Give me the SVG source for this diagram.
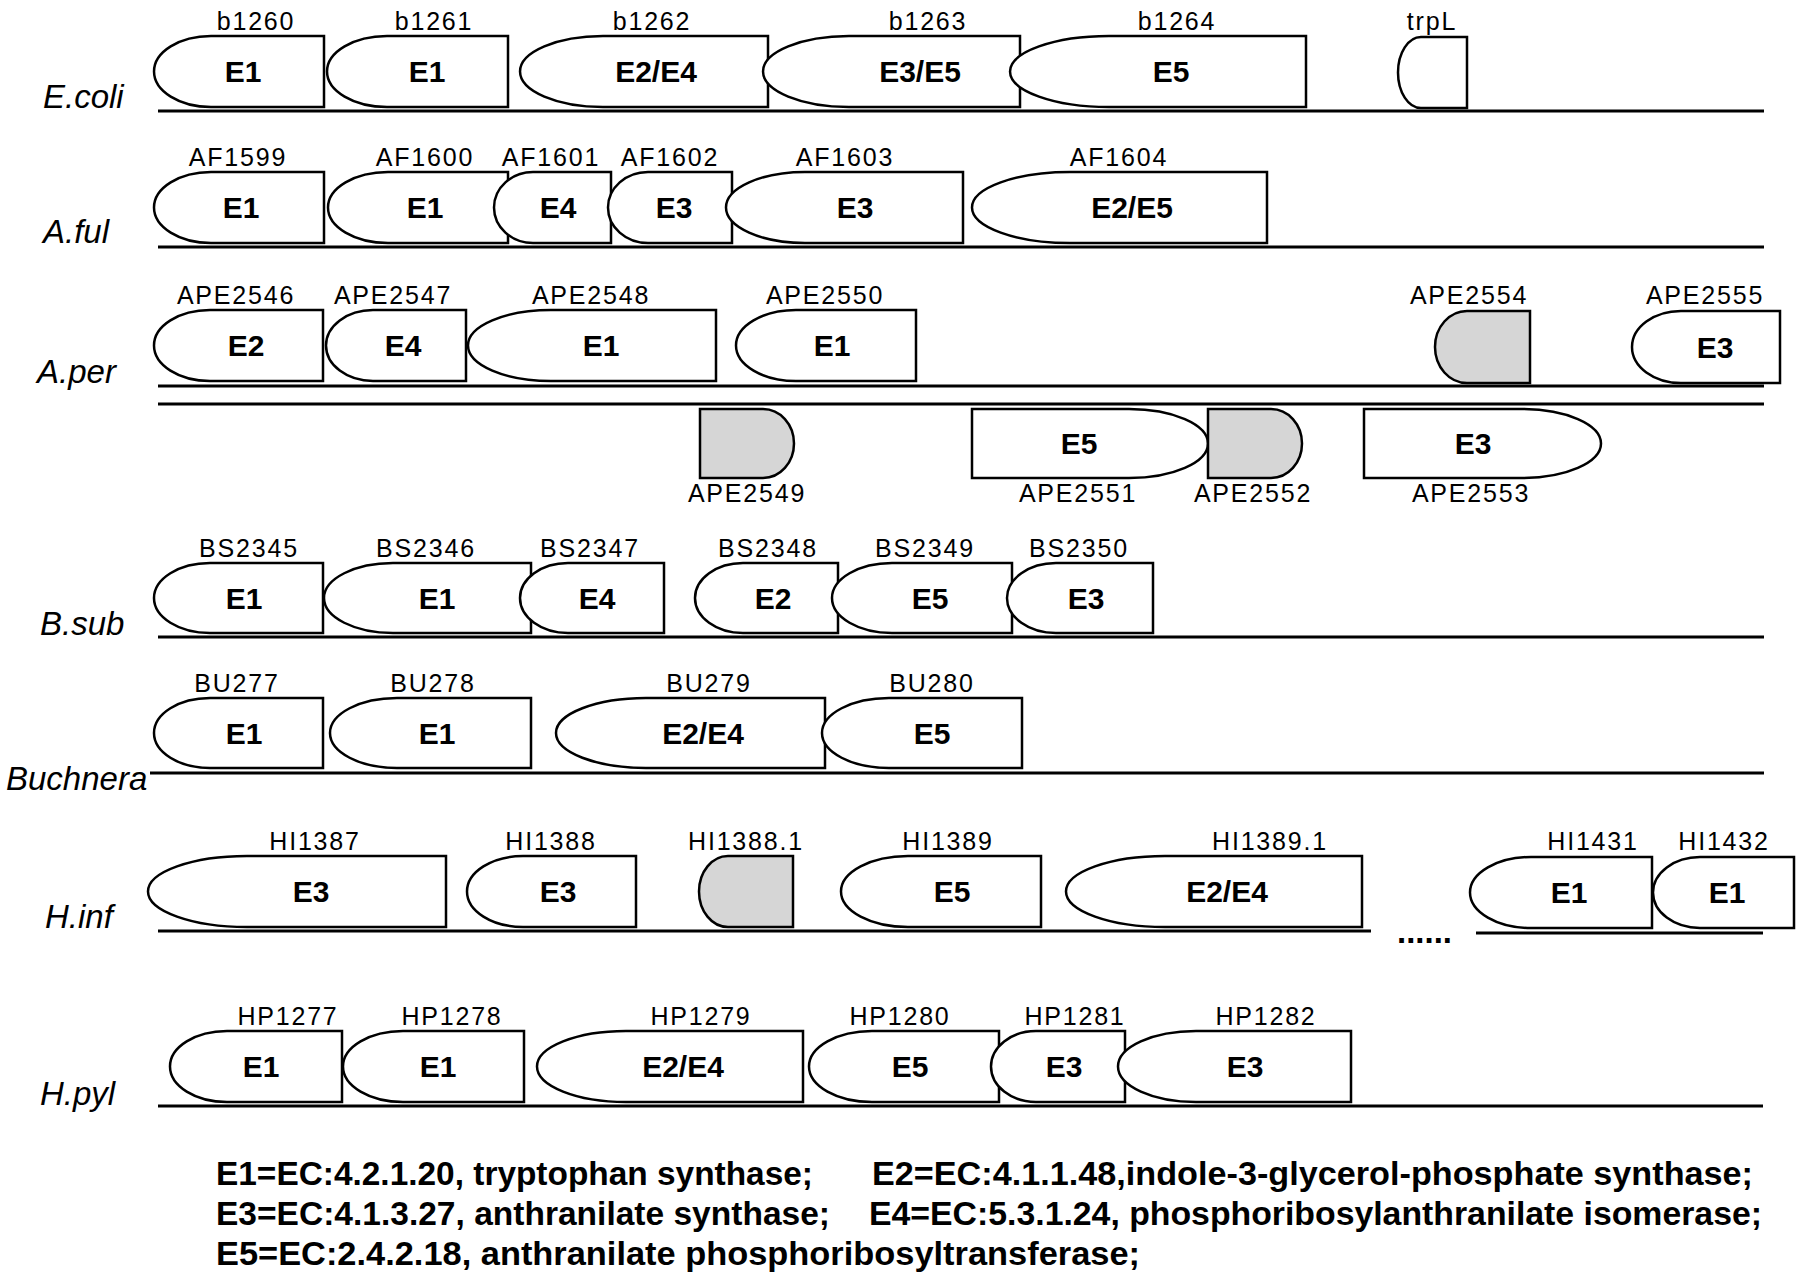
<svg xmlns="http://www.w3.org/2000/svg" width="1800" height="1280" viewBox="0 0 1800 1280">
<style>
.g{fill:#fff;stroke:#000;stroke-width:2.5}
.gr{fill:#d6d6d6;stroke:#000;stroke-width:2.5}
.bl{stroke:#000;stroke-width:3;fill:none}
.id{font-family:"Liberation Sans",Arial,sans-serif;font-size:25px;letter-spacing:1.8px;text-anchor:middle;fill:#000}
.in{font-family:"Liberation Sans",Arial,sans-serif;font-size:30px;font-weight:bold;text-anchor:middle;fill:#000}
.sp{font-family:"Liberation Sans",Arial,sans-serif;font-size:33px;font-style:italic;fill:#000}
.lg{font-family:"Liberation Sans",Arial,sans-serif;font-size:33px;font-weight:bold;fill:#000}
</style>
<rect width="1800" height="1280" fill="#fff"/>
<g id="connectors">
<line class="bl" x1="158" y1="111" x2="1764" y2="111"/>
<line class="bl" x1="158" y1="247" x2="1764" y2="247"/>
<line class="bl" x1="158" y1="386" x2="1764" y2="386"/>
<line class="bl" x1="158" y1="404" x2="1764" y2="404"/>
<line class="bl" x1="158" y1="637" x2="1764" y2="637"/>
<line class="bl" x1="150" y1="773" x2="1764" y2="773"/>
<line class="bl" x1="158" y1="931" x2="1371" y2="931"/>
<line class="bl" x1="1476" y1="933" x2="1763" y2="933"/>
<line class="bl" x1="158" y1="1106" x2="1763" y2="1106"/>
</g>
<g id="species">
<text class="sp" x="43" y="108">E.coli</text>
<text class="sp" x="43" y="243">A.ful</text>
<text class="sp" x="37" y="383">A.per</text>
<text class="sp" x="40" y="635">B.sub</text>
<text class="sp" x="6" y="790">Buchnera</text>
<text class="sp" x="45" y="928">H.inf</text>
<text class="sp" x="40" y="1105">H.pyl</text>
</g>
<!-- Row 1 E.coli -->
<g id="b1260"><path class="g" d="M211,36 H324 V107 H211 A57,35.5 0 0 1 211,36 Z"/><text class="id" x="256" y="30">b1260</text><text class="in" x="243" y="82">E1</text></g>
<g id="b1261"><path class="g" d="M387,36 H508 V107 H387 A60,35.5 0 0 1 387,36 Z"/><text class="id" x="434" y="30">b1261</text><text class="in" x="427" y="82">E1</text></g>
<g id="b1262"><path class="g" d="M603,36 H768 V107 H603 A83,35.5 0 0 1 603,36 Z"/><text class="id" x="652" y="30">b1262</text><text class="in" x="656" y="82">E2/E4</text></g>
<g id="b1263"><path class="g" d="M849,36 H1020 V107 H849 A86,35.5 0 0 1 849,36 Z"/><text class="id" x="928" y="30">b1263</text><text class="in" x="920" y="82">E3/E5</text></g>
<g id="b1264"><path class="g" d="M1109,36 H1306 V107 H1109 A99,35.5 0 0 1 1109,36 Z"/><text class="id" x="1177" y="30">b1264</text><text class="in" x="1171" y="82">E5</text></g>
<g id="trpL"><path class="g" d="M1421,37 H1467 V108 H1421 A23,35.5 0 0 1 1421,37 Z"/><text class="id" x="1432" y="30">trpL</text></g>
<!-- Row 2 A.ful -->
<g id="AF1599"><path class="g" d="M211,172 H324 V243 H211 A57,35.5 0 0 1 211,172 Z"/><text class="id" x="238" y="166">AF1599</text><text class="in" x="241" y="218">E1</text></g>
<g id="AF1600"><path class="g" d="M388,172 H508 V243 H388 A60,35.5 0 0 1 388,172 Z"/><text class="id" x="425" y="166">AF1600</text><text class="in" x="425" y="218">E1</text></g>
<g id="AF1601"><path class="g" d="M533,172 H611 V243 H533 A39,35.5 0 0 1 533,172 Z"/><text class="id" x="551" y="166">AF1601</text><text class="in" x="558" y="218">E4</text></g>
<g id="AF1602"><path class="g" d="M648,172 H732 V243 H648 A40,35.5 0 0 1 648,172 Z"/><text class="id" x="670" y="166">AF1602</text><text class="in" x="674" y="218">E3</text></g>
<g id="AF1603"><path class="g" d="M805,172 H963 V243 H805 A79,35.5 0 0 1 805,172 Z"/><text class="id" x="845" y="166">AF1603</text><text class="in" x="855" y="218">E3</text></g>
<g id="AF1604"><path class="g" d="M1070,172 H1267 V243 H1070 A98,35.5 0 0 1 1070,172 Z"/><text class="id" x="1119" y="166">AF1604</text><text class="in" x="1132" y="218">E2/E5</text></g>
<!-- Row 3 A.per -->
<g id="APE2546"><path class="g" d="M210,310 H323 V381 H210 A56,35.5 0 0 1 210,310 Z"/><text class="id" x="236" y="304">APE2546</text><text class="in" x="246" y="356">E2</text></g>
<g id="APE2547"><path class="g" d="M373,310 H466 V381 H373 A47,35.5 0 0 1 373,310 Z"/><text class="id" x="393" y="304">APE2547</text><text class="in" x="403" y="356">E4</text></g>
<g id="APE2548"><path class="g" d="M551,310 H716 V381 H551 A83,35.5 0 0 1 551,310 Z"/><text class="id" x="591" y="304">APE2548</text><text class="in" x="601" y="356">E1</text></g>
<g id="APE2550"><path class="g" d="M796,310 H916 V381 H796 A60,35.5 0 0 1 796,310 Z"/><text class="id" x="825" y="304">APE2550</text><text class="in" x="832" y="356">E1</text></g>
<g id="APE2554"><path class="gr" d="M1467,311 H1530 V383 H1467 A32,36 0 0 1 1467,311 Z"/><text class="id" x="1469" y="304">APE2554</text></g>
<g id="APE2555"><path class="g" d="M1681,311 H1780 V383 H1681 A49,36 0 0 1 1681,311 Z"/><text class="id" x="1705" y="304">APE2555</text><text class="in" x="1715" y="358">E3</text></g>
<g id="APE2549"><path class="gr" d="M700,409 H763 A31,34.5 0 0 1 763,478 H700 Z"/><text class="id" x="747" y="502">APE2549</text></g>
<g id="APE2551"><path class="g" d="M972,409 H1129 A79,34.5 0 0 1 1129,478 H972 Z"/><text class="id" x="1078" y="502">APE2551</text><text class="in" x="1079" y="454">E5</text></g>
<g id="APE2552"><path class="gr" d="M1208,409 H1271 A31,34.5 0 0 1 1271,478 H1208 Z"/><text class="id" x="1253" y="502">APE2552</text></g>
<g id="APE2553"><path class="g" d="M1364,409 H1522 A79,34.5 0 0 1 1522,478 H1364 Z"/><text class="id" x="1471" y="502">APE2553</text><text class="in" x="1473" y="454">E3</text></g>
<!-- Row 4 B.sub -->
<g id="BS2345"><path class="g" d="M210,563 H323 V633 H210 A56,35 0 0 1 210,563 Z"/><text class="id" x="249" y="557">BS2345</text><text class="in" x="244" y="609">E1</text></g>
<g id="BS2346"><path class="g" d="M393,563 H531 V633 H393 A69,35 0 0 1 393,563 Z"/><text class="id" x="426" y="557">BS2346</text><text class="in" x="437" y="609">E1</text></g>
<g id="BS2347"><path class="g" d="M568,563 H664 V633 H568 A48,35 0 0 1 568,563 Z"/><text class="id" x="590" y="557">BS2347</text><text class="in" x="597" y="609">E4</text></g>
<g id="BS2348"><path class="g" d="M743,563 H838 V633 H743 A48,35 0 0 1 743,563 Z"/><text class="id" x="768" y="557">BS2348</text><text class="in" x="773" y="609">E2</text></g>
<g id="BS2349"><path class="g" d="M892,563 H1012 V633 H892 A60,35 0 0 1 892,563 Z"/><text class="id" x="925" y="557">BS2349</text><text class="in" x="930" y="609">E5</text></g>
<g id="BS2350"><path class="g" d="M1056,563 H1153 V633 H1056 A49,35 0 0 1 1056,563 Z"/><text class="id" x="1079" y="557">BS2350</text><text class="in" x="1086" y="609">E3</text></g>
<!-- Row 5 Buchnera -->
<g id="BU277"><path class="g" d="M210,698 H323 V768 H210 A56,35 0 0 1 210,698 Z"/><text class="id" x="237" y="692">BU277</text><text class="in" x="244" y="744">E1</text></g>
<g id="BU278"><path class="g" d="M397,698 H531 V768 H397 A67,35 0 0 1 397,698 Z"/><text class="id" x="433" y="692">BU278</text><text class="in" x="437" y="744">E1</text></g>
<g id="BU279"><path class="g" d="M646,698 H825 V768 H646 A90,35 0 0 1 646,698 Z"/><text class="id" x="709" y="692">BU279</text><text class="in" x="703" y="744">E2/E4</text></g>
<g id="BU280"><path class="g" d="M889,698 H1022 V768 H889 A67,35 0 0 1 889,698 Z"/><text class="id" x="932" y="692">BU280</text><text class="in" x="932" y="744">E5</text></g>
<!-- Row 6 H.inf -->
<g id="HI1387"><path class="g" d="M247,856 H446 V927 H247 A99,35.5 0 0 1 247,856 Z"/><text class="id" x="315" y="850">HI1387</text><text class="in" x="311" y="902">E3</text></g>
<g id="HI1388"><path class="g" d="M523,856 H636 V927 H523 A56,35.5 0 0 1 523,856 Z"/><text class="id" x="551" y="850">HI1388</text><text class="in" x="558" y="902">E3</text></g>
<g id="HI1388.1"><path class="gr" d="M728,856 H793 V927 H728 A29,35.5 0 0 1 728,856 Z"/><text class="id" x="746" y="850">HI1388.1</text></g>
<g id="HI1389"><path class="g" d="M908,856 H1041 V927 H908 A67,35.5 0 0 1 908,856 Z"/><text class="id" x="948" y="850">HI1389</text><text class="in" x="952" y="902">E5</text></g>
<g id="HI1389.1"><path class="g" d="M1165,856 H1362 V927 H1165 A99,35.5 0 0 1 1165,856 Z"/><text class="id" x="1270" y="850">HI1389.1</text><text class="in" x="1227" y="902">E2/E4</text></g>
<g id="HI1431"><path class="g" d="M1531,857 H1652 V928 H1531 A61,35.5 0 0 1 1531,857 Z"/><text class="id" x="1593" y="850">HI1431</text><text class="in" x="1569" y="903">E1</text></g>
<g id="HI1432"><path class="g" d="M1700,857 H1794 V928 H1700 A47,35.5 0 0 1 1700,857 Z"/><text class="id" x="1724" y="850">HI1432</text><text class="in" x="1727" y="903">E1</text></g>
<text class="lg" x="1397" y="943">......</text>
<!-- Row 7 H.pyl -->
<g id="HP1277"><path class="g" d="M227,1031 H342 V1102 H227 A57,35.5 0 0 1 227,1031 Z"/><text class="id" x="288" y="1025">HP1277</text><text class="in" x="261" y="1077">E1</text></g>
<g id="HP1278"><path class="g" d="M403,1031 H524 V1102 H403 A60,35.5 0 0 1 403,1031 Z"/><text class="id" x="452" y="1025">HP1278</text><text class="in" x="438" y="1077">E1</text></g>
<g id="HP1279"><path class="g" d="M626,1031 H803 V1102 H626 A89,35.5 0 0 1 626,1031 Z"/><text class="id" x="701" y="1025">HP1279</text><text class="in" x="683" y="1077">E2/E4</text></g>
<g id="HP1280"><path class="g" d="M872,1031 H999 V1102 H872 A63,35.5 0 0 1 872,1031 Z"/><text class="id" x="900" y="1025">HP1280</text><text class="in" x="910" y="1077">E5</text></g>
<g id="HP1281"><path class="g" d="M1036,1031 H1125 V1102 H1036 A45,35.5 0 0 1 1036,1031 Z"/><text class="id" x="1075" y="1025">HP1281</text><text class="in" x="1064" y="1077">E3</text></g>
<g id="HP1282"><path class="g" d="M1196,1031 H1351 V1102 H1196 A78,35.5 0 0 1 1196,1031 Z"/><text class="id" x="1266" y="1025">HP1282</text><text class="in" x="1245" y="1077">E3</text></g>
<g id="legend">
<text class="lg" x="216" y="1185" textLength="597" lengthAdjust="spacingAndGlyphs">E1=EC:4.2.1.20, tryptophan synthase;</text>
<text class="lg" x="872" y="1185" textLength="881" lengthAdjust="spacingAndGlyphs">E2=EC:4.1.1.48,indole-3-glycerol-phosphate synthase;</text>
<text class="lg" x="216" y="1225" textLength="614" lengthAdjust="spacingAndGlyphs">E3=EC:4.1.3.27, anthranilate synthase;</text>
<text class="lg" x="869" y="1225" textLength="893" lengthAdjust="spacingAndGlyphs">E4=EC:5.3.1.24, phosphoribosylanthranilate isomerase;</text>
<text class="lg" x="216" y="1265" textLength="924" lengthAdjust="spacingAndGlyphs">E5=EC:2.4.2.18, anthranilate phosphoribosyltransferase;</text>
</g>
</svg>
